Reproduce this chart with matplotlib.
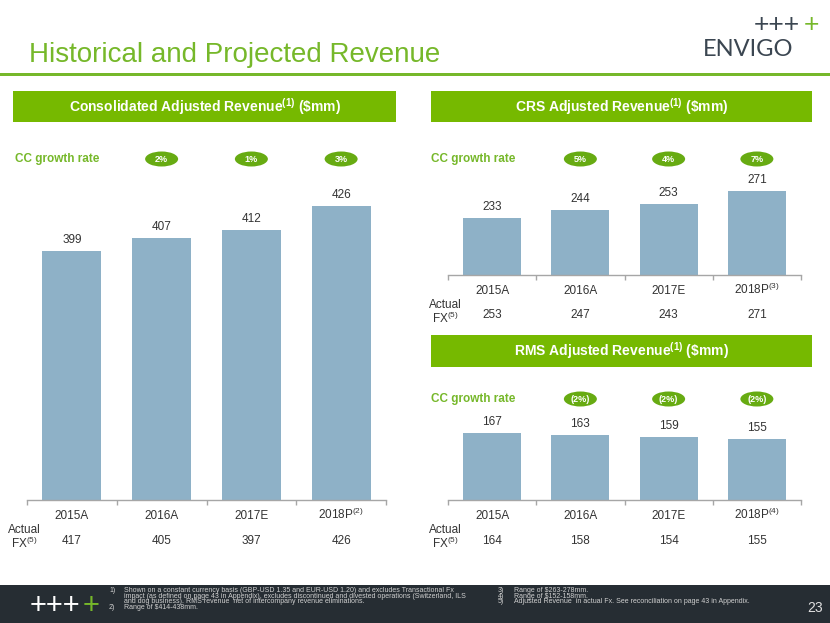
import numpy as np
import matplotlib
matplotlib.use('Agg')
import matplotlib.pyplot as plt
from matplotlib.patches import Rectangle, Ellipse
from matplotlib.transforms import blended_transform_factory

plt.rcParams['font.family'] = ['Liberation Sans', 'DejaVu Sans']
plt.rcParams['mathtext.default'] = 'regular'

# data
years = ['2015A', '2016A', '2017E', '2018P']
consolidated = [399, 407, 412, 426]
consolidated_fx = [417, 405, 397, 426]
consolidated_growth = ['2%', '1%', '3%']
crs = [233, 244, 253, 271]
crs_fx = [253, 247, 243, 271]
crs_growth = ['5%', '4%', '7%']
rms = [167, 163, 159, 155]
rms_fx = [164, 158, 154, 155]
rms_growth = ['(2%)', '(2%)', '(2%)']

GREEN = '#76B82A'
BOX = '#76B900'
PILL = '#67AB12'
BAR = '#8EB1C7'
AXIS = '#A6A6A6'
TXT = '#333333'
DARK = '#3B4651'
FOOT = '#262D33'

W, H = 830, 623
fig = plt.figure(figsize=(W / 100, H / 100), dpi=100)


def fx(x):
    return x / W


def fy(y):
    return 1 - y / H


def axes_px(x0, x1, ytop, ybot):
    return fig.add_axes([fx(x0), fy(ybot), (x1 - x0) / W, (ybot - ytop) / H])


def header(x0, x1, ytop, ybot, label):
    fig.add_artist(Rectangle((fx(x0), fy(ybot)), (x1 - x0) / W, (ybot - ytop) / H,
                             transform=fig.transFigure, color=BOX, lw=0))
    fig.text(fx((x0 + x1) / 2), fy((ytop + ybot) / 2), label, ha='center', va='center',
             color='white', fontsize=10, fontweight='bold')


def panel(ax, vals, fx_vals, growth, note, ylim, pill_y, label_x):
    x = np.arange(len(vals))
    ax.bar(x, vals, width=0.66, color=BAR, zorder=2)
    ax.set_xlim(-0.5, len(vals) - 0.5)
    ax.set_ylim(ylim)
    ax.set_yticks([])
    for side in ('top', 'left', 'right'):
        ax.spines[side].set_visible(False)
    ax.spines['bottom'].set_color(AXIS)
    ax.spines['bottom'].set_linewidth(1)
    ax.patch.set_alpha(0)

    ax.set_xticks(x)
    ax.set_xticklabels(years[:-1] + [years[-1] + r'$^{(%d)}$' % note],
                       fontsize=8.5, color=TXT, va='baseline')
    ax.set_xticks(np.arange(len(vals) + 1) - 0.5, minor=True)
    ax.tick_params(axis='x', which='major', length=0, pad=13.5)
    ax.tick_params(axis='x', which='minor', length=3.5, width=1, color=AXIS)

    # value labels on top of the bars
    for i, v in enumerate(vals):
        ax.annotate(str(v), (i, v), xytext=(0, 11), textcoords='offset pixels',
                    ha='center', va='center', fontsize=8.5, color=TXT)

    # actual fx row under the axis
    xt = ax.get_xaxis_transform()
    for i, v in enumerate(fx_vals):
        ax.annotate(str(v), (i, 0), xycoords=xt, xytext=(0, -40.5), textcoords='offset pixels',
                    ha='center', va='center', fontsize=8.5, color=TXT)
    ax.annotate('Actual\n' + r'FX$^{(5)}$', (-0.5, 0), xycoords=xt, xytext=(-3, -37.5),
                textcoords='offset pixels', ha='center', va='center', multialignment='center',
                linespacing=0.95, fontsize=8.5, color=TXT)

    # growth rate pills
    fig.text(fx(label_x), fy(pill_y), 'CC growth rate', ha='left', va='center',
             color=GREEN, fontsize=8.5, fontweight='bold')
    blend = blended_transform_factory(ax.transData, fig.transFigure)
    px_per_unit = ax.get_position().width * W / len(vals)
    for i, g in enumerate(growth, start=1):
        ax.add_patch(Ellipse((i, fy(pill_y)), 33 / px_per_unit, 15 / H, transform=blend,
                             color=PILL, lw=0, clip_on=False))
        ax.text(i, fy(pill_y), g, transform=blend, ha='center', va='center',
                color='white', fontsize=6.5, fontweight='bold')


# title and logo
fig.text(fx(29), fy(62), 'Historical and Projected Revenue', ha='left', va='baseline',
         color=GREEN, fontsize=20)
fig.add_artist(Rectangle((0, fy(76)), 1, 3 / H, transform=fig.transFigure, color=GREEN, lw=0))
fig.text(fx(800), fy(25), '+++', ha='right', va='center', color=DARK, fontsize=19)
fig.text(fx(819), fy(25), '+', ha='right', va='center', color=GREEN, fontsize=19)
fig.text(fx(703), fy(50), 'ENVIGO', ha='left', va='center', color=DARK, fontsize=17,
         family=['Lato', 'Liberation Sans'])

# section headers
header(13, 396, 91, 122, r'Consolidated Adjusted Revenue$^{(1)}$ (\$mm)')
header(431, 812, 91, 122, r'CRS Adjusted Revenue$^{(1)}$ (\$mm)')
header(431, 812, 335, 367, r'RMS Adjusted Revenue$^{(1)}$ (\$mm)')

ax1 = axes_px(27, 386, 170, 500)
panel(ax1, consolidated, consolidated_fx, consolidated_growth, 2, (248.5, 448), 159, 15)

ax2 = axes_px(448, 801, 170, 275)
panel(ax2, crs, crs_fx, crs_growth, 3, (150, 302), 159, 431)

ax3 = axes_px(448, 801, 410, 500)
panel(ax3, rms, rms_fx, rms_growth, 4, (45, 208), 399, 431)

# footer
fig.add_artist(Rectangle((0, 0), 1, (H - 585) / H, transform=fig.transFigure, color=FOOT, lw=0))
fig.text(fx(80), fy(606), '+++', ha='right', va='center', color='white', fontsize=21)
fig.text(fx(99), fy(606), '+', ha='right', va='center', color=GREEN, fontsize=21)

notes_left = [
    ('1)', 'Shown on a constant currency basis (GBP-USD 1.35 and EUR-USD 1.20) and excludes Transactional Fx'),
    ('', 'impact (as defined on page 43 in Appendix), excludes discontinued and divested operations (Switzerland, ILS'),
    ('', 'and dog business). RMS revenue  net of intercompany revenue eliminations.'),
    ('2)', r'Range of \$414-438mm.'),
]
notes_right = [
    ('3)', r'Range of \$263-278mm.'),
    ('4)', r'Range of \$152-158mm.'),
    ('5)', 'Adjusted Revenue  in actual Fx. See reconciliation on page 43 in Appendix.'),
]
line_y = [590.7, 596.3, 601.9, 607.5]
for (num, txt), y in zip(notes_left, line_y):
    fig.text(fx(109), fy(y), num, ha='left', va='center', color='#D0D0D0', fontsize=5)
    fig.text(fx(124), fy(y), txt, ha='left', va='center', color='#D0D0D0', fontsize=5)
for (num, txt), y in zip(notes_right, line_y):
    fig.text(fx(498), fy(y), num, ha='left', va='center', color='#D0D0D0', fontsize=5)
    fig.text(fx(514), fy(y), txt, ha='left', va='center', color='#D0D0D0', fontsize=5)
fig.text(fx(815), fy(608), '23', ha='center', va='center', color='#E0E0E0', fontsize=10)

fig.savefig('out.png', dpi=100)
